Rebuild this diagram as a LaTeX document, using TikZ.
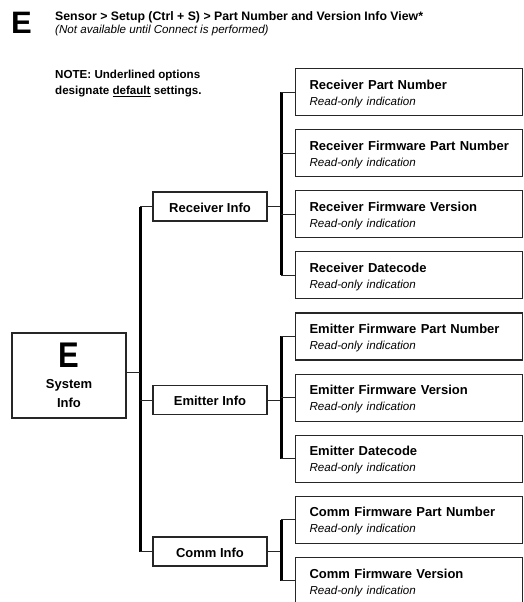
\documentclass[tikz,border=0pt]{standalone}
\usepackage{fontspec}
\setmainfont{Liberation Sans}
\usetikzlibrary{positioning}
\tikzset{box/.style={rectangle,draw=black!85,line width=1.1pt,inner sep=0pt},
  leaf/.style={box,minimum width=227pt,minimum height=47pt,inner xsep=14pt,text width=199pt,text depth=15pt,align=left,font=\fontsize{13}{16}\selectfont\bfseries},
  group/.style={box,minimum width=114pt,minimum height=29pt,text height=11.8pt,text depth=0pt,font=\fontsize{13}{15}\selectfont\bfseries},
  bar/.style={line width=3pt},
  link/.style={line width=0.9pt,draw=black!85}}
\newcommand{\leaftext}[1]{\mbox{#1}\\{\fontsize{11.6}{16}\selectfont\mdseries\itshape Read-only indication}}

\begin{document}
\begin{tikzpicture}[x=1pt,y=-1pt,node distance=13pt]
  \useasboundingbox (0,0) rectangle (523,602);
  % heading
  \node (bigE) [anchor=base west,inner sep=0pt,font=\fontsize{31}{31}\selectfont\bfseries] at (11,33.3) {E};
  \node (title) [anchor=base west,inner sep=0pt,font=\fontsize{12.3}{15}\selectfont\bfseries] at (55,20.5) {Sensor > Setup (Ctrl + S) > Part Number and Version Info View*};
  \node (subtitle) [anchor=base west,inner sep=0pt,font=\fontsize{11.6}{14}\selectfont\itshape] at (55,34) {(Not available until Connect is performed)};
  \node (note) [anchor=north west,inner sep=0pt,align=left,font=\fontsize{11.6}{16}\selectfont\bfseries] at (55,69.8) {NOTE: Underlined options\\designate \underline{default} settings.};

  % tree
  \node (sys)  [box,minimum width=114pt,minimum height=85pt,align=center,font=\fontsize{13}{19}\selectfont\bfseries] at (69,375.5)
        {\scalebox{1}[1.15]{\fontsize{31}{31}\selectfont E}\\[2pt]System\\Info};
  \node (recv) [group] at (210,206.5) {Receiver Info};
  \node (emit) [group] at (210,400) {Emitter Info};
  \node (comm) [group] at (210,551.5) {Comm Info};

  \node (rpn)  [leaf,anchor=north west] at (295,68) {\leaftext{Receiver Part Number}};
  \node (rfpn) [leaf,below=of rpn]  {\leaftext{Receiver Firmware Part Number}};
  \node (rfv)  [leaf,below=of rfpn] {\leaftext{Receiver Firmware Version}};
  \node (rd)   [leaf,below=of rfv]  {\leaftext{Receiver Datecode}};
  \node (efpn) [leaf,below=of rd]   {\leaftext{Emitter Firmware Part Number}};
  \node (efv)  [leaf,below=of efpn] {\leaftext{Emitter Firmware Version}};
  \node (ed)   [leaf,below=of efv]  {\leaftext{Emitter Datecode}};
  \node (cfpn) [leaf,below=of ed]   {\leaftext{Comm Firmware Part Number}};
  \node (cfv)  [leaf,below=of cfpn] {\leaftext{Comm Firmware Version}};

  % connectors
  \coordinate (mbar) at (140,0);
  \coordinate (lbar) at (281,0);
  \draw[bar] (recv.west -| mbar) -- (comm.west -| mbar);
  \draw[link] ([yshift=3.5pt]sys.east) -- ([yshift=3.5pt]sys.east -| mbar);
  \foreach \g in {recv,emit,comm}
    \draw[link] (\g.west -| mbar) -- (\g.west)
                (\g.east) -- (\g.east -| lbar);
  \draw[bar] (rpn.west -| lbar) -- (rd.west -| lbar);
  \draw[bar] (efpn.west -| lbar) -- (ed.west -| lbar);
  \draw[bar] (cfpn.west -| lbar) -- (cfv.west -| lbar);
  \foreach \l in {rpn,rfpn,rfv,rd,efpn,efv,ed,cfpn,cfv}
    \draw[link] (\l.west -| lbar) -- (\l.west);
\end{tikzpicture}
\end{document}
